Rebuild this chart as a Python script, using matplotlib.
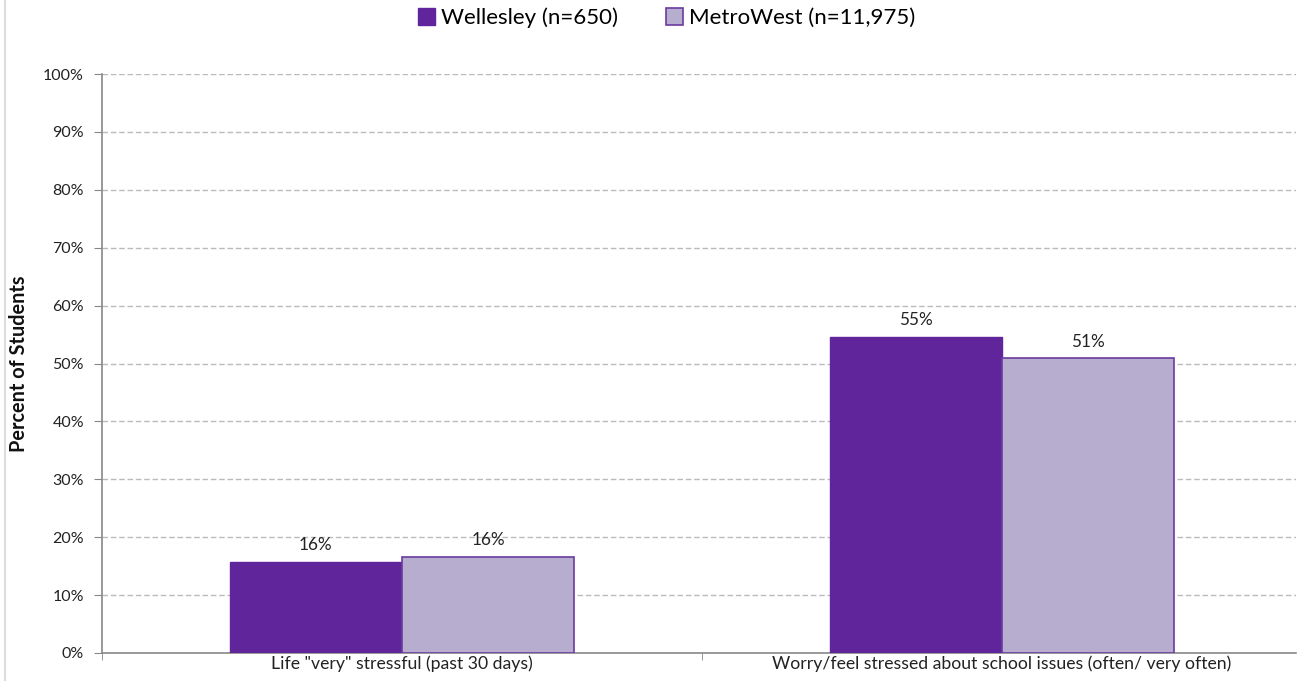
import matplotlib
matplotlib.use("Agg")
import matplotlib.pyplot as plt
import numpy as np
from matplotlib.ticker import FixedLocator, PercentFormatter

plt.rcParams['font.family'] = ['Lato', 'DejaVu Sans']

categories = ['Life "very" stressful (past 30 days)',
              'Worry/feel stressed about school issues (often/ very often)']
wellesley = [15.7, 54.6]
metrowest = [16.6, 50.9]
wellesley_labels = ['16%', '55%']
metrowest_labels = ['16%', '51%']
series_names = ['Wellesley (n=650)', 'MetroWest (n=11,975)']

c_dark = '#60259A'
c_light = '#B7ADCF'
c_edge = '#6A3BA0'

fig = plt.figure(figsize=(12.97, 6.81), dpi=100)
ax = fig.add_axes([102/1297, 1-653/681, (1296-102)/1297, (653-74)/681])

x = np.arange(len(categories))
w = 0.287
b1 = ax.bar(x - w/2, wellesley, width=w, color=c_dark, edgecolor=c_dark, linewidth=1, zorder=3,
            label=series_names[0])
b2 = ax.bar(x + w/2, metrowest, width=w, color=c_light, edgecolor=c_edge, linewidth=1.2, zorder=3,
            label=series_names[1])
for rect, lab in zip(b1, wellesley_labels):
    ax.text(rect.get_x() + rect.get_width()/2, rect.get_height() + 1.5, lab,
            ha='center', va='bottom', fontsize=12.3, color='#222222')
for rect, lab in zip(b2, metrowest_labels):
    ax.text(rect.get_x() + rect.get_width()/2, rect.get_height() + 1.5, lab,
            ha='center', va='bottom', fontsize=12.3, color='#222222')

ax.set_xlim(-0.5, 1.49)
ax.set_ylim(0, 100)
ax.set_yticks(np.arange(0, 101, 10))
ax.yaxis.set_major_formatter(PercentFormatter(decimals=0))
ax.yaxis.grid(True, linestyle=(0, (4, 2)), color='#BBBBBB', linewidth=1, zorder=0)
ax.set_xticks(x)
ax.set_xticklabels(categories, fontsize=12.7, color='#222222')
ax.tick_params(axis='x', length=0, pad=2)
ax.xaxis.set_minor_locator(FixedLocator([-0.5, 0.5]))
ax.tick_params(axis='x', which='minor', length=5, color='#888888')
ax.tick_params(axis='y', length=6, color='#888888', labelsize=11.5, labelcolor='#222222', pad=7)
for s in ['top', 'right']:
    ax.spines[s].set_visible(False)
for s in ['left', 'bottom']:
    ax.spines[s].set_color('#888888')
    ax.spines[s].set_linewidth(1.2)

ax.set_ylabel('Percent of Students', fontsize=14.3, fontweight='bold', color='#111111', labelpad=10)

fig.legend(handles=[b1, b2], labels=series_names, loc='upper center', bbox_to_anchor=(0.514, 1.018),
           ncol=2, frameon=False, fontsize=16, handlelength=0.75, handleheight=0.75,
           handletextpad=0.25, columnspacing=2.2)

fig.add_artist(plt.Line2D([5/1297, 5/1297], [0, 1], color='#DDDDDD', linewidth=1.5,
                          transform=fig.transFigure))

fig.savefig('out.png', dpi=100)
